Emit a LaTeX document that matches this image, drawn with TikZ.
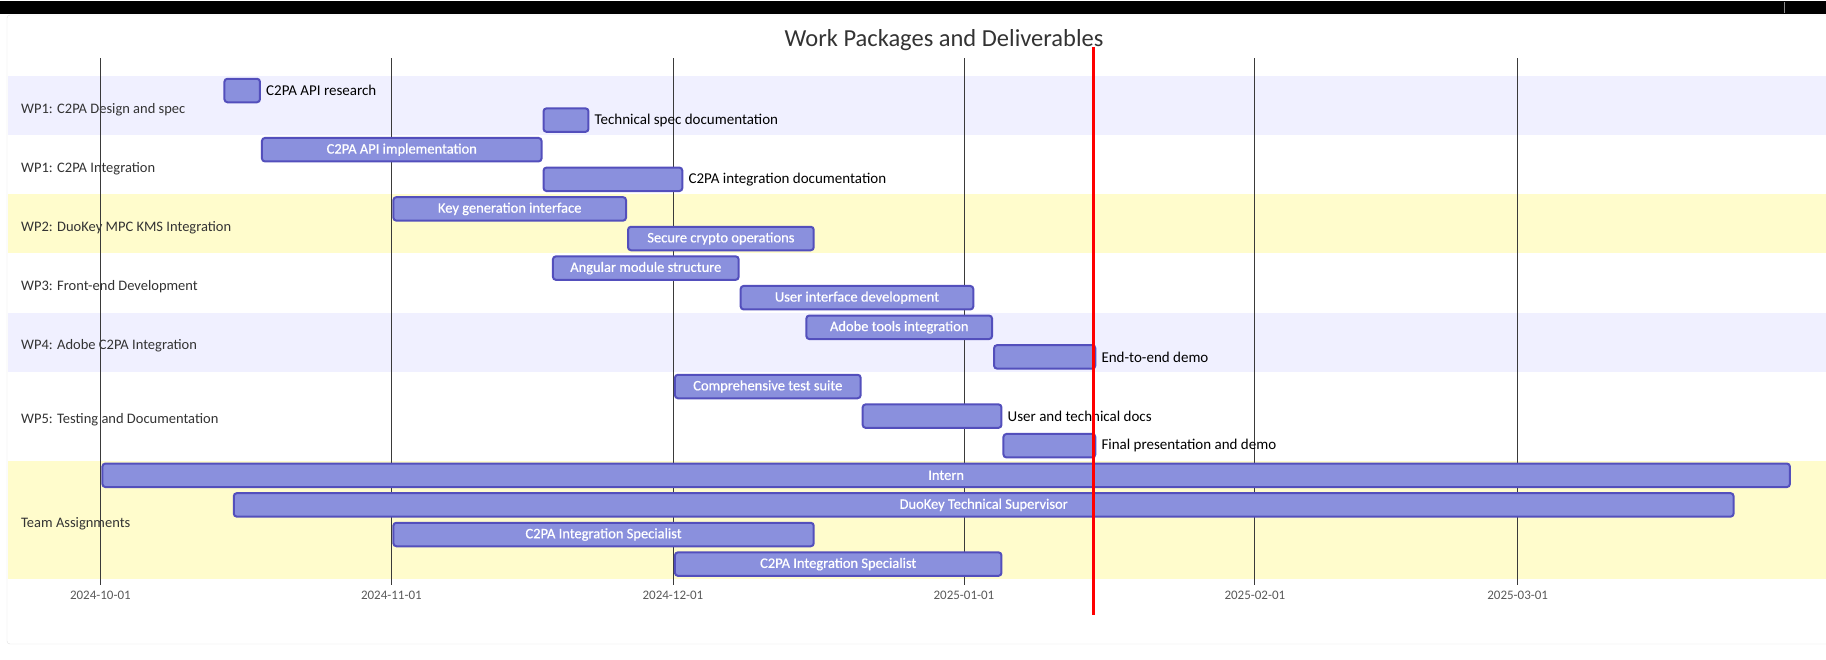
\documentclass[tikz,border=0pt]{standalone}
\usepackage{fontspec}
\setmainfont{Carlito}
\newfontfamily\barfont[FakeBold=0.6]{Carlito}
\usetikzlibrary{positioning}

\definecolor{barfill}{HTML}{8A90DD}
\definecolor{barline}{HTML}{534FBC}
\definecolor{lavband}{HTML}{F0F0FF}
\definecolor{yelband}{HTML}{FFFCCC}
\definecolor{gridc}{HTML}{3A3A3A}
\definecolor{txtc}{HTML}{333333}

\tikzset{
  taskbar/.style={draw=barline, fill=barfill, line width=2pt, rounded corners=3pt,
    minimum height=23.5pt, inner sep=0pt, anchor=west, text=white,
    font=\barfont\fontsize{14.5}{16}\selectfont},
  outlbl/.style={inner sep=0pt, font=\fontsize{15}{17}\selectfont},
  seclbl/.style={anchor=west, inner sep=0pt, text=txtc, font=\fontsize{14.5}{16}\selectfont},
  ticklbl/.style={inner sep=0pt, text=black!65, font=\fontsize{13}{15}\selectfont}
}

\begin{document}
\begin{tikzpicture}[x=1pt,y=-1pt]
\useasboundingbox (0,0) rectangle (1826,659);
% frame and title
\fill[black] (0,1) rectangle (1826,14);
\draw[black!45] (1784,2)--(1784,13);
\draw[black!12, rounded corners=3pt] (7,15) rectangle (1832,644);
\node[text=txtc, font=\fontsize{24.5}{28}\selectfont] (title) at (944,40) {Work Packages and Deliverables};
% section bands
\foreach \r/\n/\c/\txt [count=\i] in {0/2/lavband/WP1: C2PA Design and spec,
  2/2/white/WP1: C2PA Integration, 4/2/yelband/WP2: DuoKey MPC KMS Integration,
  6/2/white/WP3: Front-end Development, 8/2/lavband/WP4: Adobe C2PA Integration,
  10/3/white/WP5: Testing and Documentation, 13/4/yelband/Team Assignments}{
  \fill[\c] (8,{75.7+29.6*\r}) rectangle (1826,{75.7+29.6*(\r+\n)});
  \node[seclbl] (sec\i) at (21,{79.7+29.6*(\r+\n/2)}) {\txt};
}
% month grid
\foreach \d/\lbl [count=\i] in {0/2024-10-01,31/2024-11-01,61/2024-12-01,
  92/2025-01-01,123/2025-02-01,151/2025-03-01}{
  \draw[gridc, line width=0.8pt] ({100.4+9.386*\d},58) -- ({100.4+9.386*\d},585);
  \node[ticklbl] (tick\i) at ({100.4+9.386*\d},595) {\lbl};
}
% tasks, label inside
\foreach \s/\e/\r/\txt [count=\i] in {17/47/2/C2PA API implementation,
  31/56/4/Key generation interface, 56/76/5/Secure crypto operations,
  48/68/6/Angular module structure, 68/93/7/User interface development,
  75/95/8/Adobe tools integration, 61/81/10/Comprehensive test suite,
  0/180/13/Intern, 14/174/14/DuoKey Technical Supervisor,
  31/76/15/C2PA Integration Specialist, 61/96/16/C2PA Integration Specialist}{
  \node[taskbar, minimum width={9.386*(\e-\s)-2}] (task\i) at ({101.4+9.386*\s},{90.5+29.6*\r}) {\txt};
}
% tasks, label outside
\foreach \s/\e/\r/\txt [count=\i] in {13/17/0/C2PA API research,
  47/52/1/Technical spec documentation, 47/62/3/C2PA integration documentation,
  95/106/9/End-to-end demo, 81/96/11/User and technical docs,
  96/106/12/Final presentation and demo}{
  \node[taskbar, minimum width={9.386*(\e-\s)-2}] (doc\i) at ({101.4+9.386*\s},{90.5+29.6*\r}) {};
  \node[outlbl, right=5pt of doc\i] (doc\i-lbl) {\txt};
}
% today
\coordinate (today top) at ({100.4+9.386*105.8},47);
\coordinate (today bot) at ({100.4+9.386*105.8},615);
\draw[red, line width=2.5pt] (today top) -- (today bot);
\end{tikzpicture}
\end{document}
